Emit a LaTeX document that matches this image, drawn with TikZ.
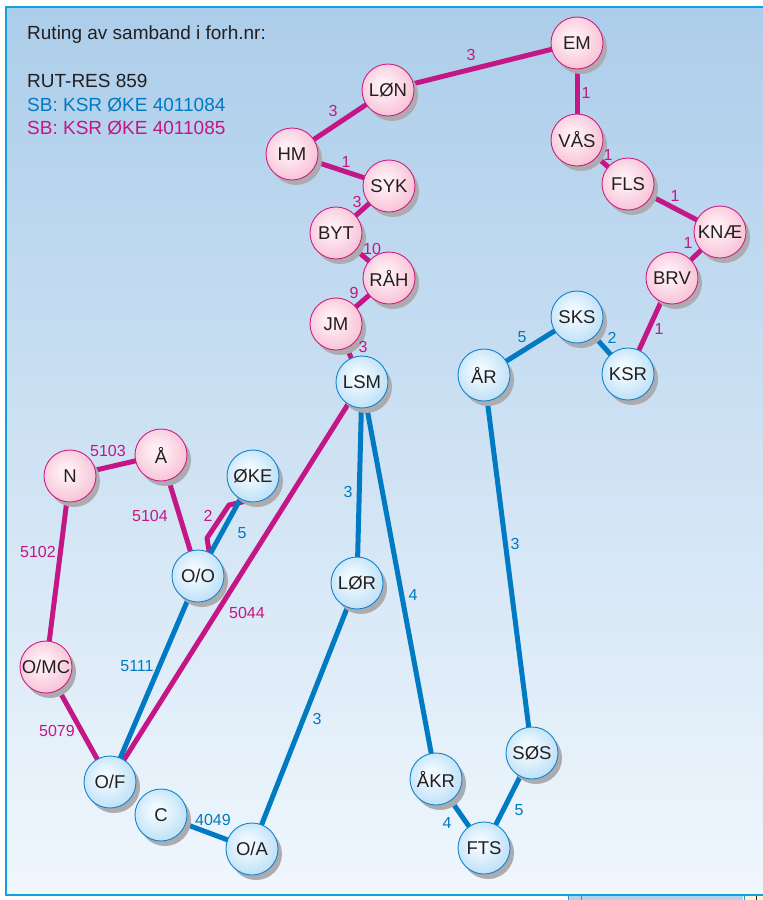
\documentclass[tikz,border=0pt]{standalone}
\usepackage{fontspec}
\setmainfont{Liberation Sans}
\usetikzlibrary{shadows}

\definecolor{panelTop}{RGB}{172,205,234}
\definecolor{panelBot}{RGB}{240,247,253}
\definecolor{frameC}{RGB}{20,160,222}
\definecolor{mag}{RGB}{196,22,134}
\definecolor{blu}{RGB}{0,122,194}
\definecolor{txt}{RGB}{35,31,32}
\definecolor{pinkin}{RGB}{254,238,244}
\definecolor{pinkout}{RGB}{243,158,190}
\definecolor{pinkedge}{RGB}{205,30,130}
\definecolor{bluein}{RGB}{240,249,255}
\definecolor{blueout}{RGB}{148,204,240}
\definecolor{blueedge}{RGB}{18,132,202}
\definecolor{shadowC}{RGB}{172,172,176}
\definecolor{stripBlue}{RGB}{178,210,236}
\definecolor{stripYel}{RGB}{252,246,214}

\pgfdeclareradialshading{pinkball}{\pgfpoint{-5bp}{5bp}}{color(0bp)=(pinkin); color(6bp)=(pinkin); color(46bp)=(pinkout); color(50bp)=(pinkout)}
\pgfdeclareradialshading{blueball}{\pgfpoint{-5bp}{5bp}}{color(0bp)=(bluein); color(6bp)=(bluein); color(46bp)=(blueout); color(50bp)=(blueout)}

\pgfdeclarelayer{panel}
\pgfdeclarelayer{links}
\pgfsetlayers{panel,links,main}

\tikzset{
  stn/.style={circle, minimum size=52pt, inner sep=0pt, line width=0.9pt,
    font=\fontsize{18.5}{20}\selectfont, text=txt,
    drop shadow={shadow xshift=4pt, shadow yshift=-5pt, fill=shadowC, opacity=1}},
  pk/.style={stn, draw=pinkedge, shading=pinkball},
  bl/.style={stn, draw=blueedge, shading=blueball},
  mline/.style={line width=5pt, draw=mag, line join=round},
  bline/.style={line width=5pt, draw=blu},
  mlab/.style={text=mag, font=\fontsize{16}{18}\selectfont, inner sep=0pt},
  blab/.style={text=blu, font=\fontsize{16}{18}\selectfont, inner sep=0pt},
  head/.style={anchor=base west, inner sep=0pt, font=\fontsize{19}{22}\selectfont},
}

\begin{document}
\begin{tikzpicture}[x=1pt, y=-1pt]
\useasboundingbox (0,0) rectangle (763,900);
\clip (0,0) rectangle (763,900);

% panel with gradient and frame
\begin{pgfonlayer}{panel}
  \fill[white] (0,0) rectangle (763,900);
  \shade[top color=panelTop, bottom color=panelBot] (6,7) rectangle (780,895);
  \draw[frameC, line width=1.4pt] (780,7) -- (6,7) -- (6,895) -- (780,895);
  % edge of the next panel below
  \fill[stripBlue] (569,896) rectangle (743,900);
  \fill[stripYel] (745,896) rectangle (763,900);
  \draw[frameC, line width=0.8pt] (568,896) -- (568,900) (581,896) -- (581,900) (744,896) -- (744,900);
  \draw[txt, line width=0.8pt] (756,896) -- (756,900);
\end{pgfonlayer}

% legend
\node[head, text=txt] (hdr) at (27,39) {Ruting av samband i forh.nr:};
\node[head, text=txt] (rut) at (27,87) {RUT-RES 859};
\node[head, text=blu] (sbb) at (27,111) {SB: KSR ØKE 4011084};
\node[head, text=mag] (sbm) at (27,134) {SB: KSR ØKE 4011085};

% stations
\node[pk] (em)  at (577,43)  {EM};
\node[pk] (lon) at (388,90)  {LØN};
\node[pk] (hm)  at (292,154) {HM};
\node[pk] (syk) at (389,186) {SYK};
\node[pk] (byt) at (336,233) {BYT};
\node[pk] (rah) at (389,278) {RÅH};
\node[pk] (jm)  at (336,324) {JM};
\node[bl] (lsm) at (362,382) {LSM};
\node[pk] (vas) at (577,140) {VÅS};
\node[pk] (fls) at (628,184) {FLS};
\node[pk] (kna) at (720,232) {KNÆ};
\node[pk] (brv) at (672,278) {BRV};
\node[bl] (sks) at (577,317) {SKS};
\node[bl] (ksr) at (628,374) {KSR};
\node[bl] (ar)  at (484,375) {ÅR};
\node[pk] (n)   at (70,476)  {N};
\node[pk] (aa)  at (161,455) {Å};
\node[bl] (oke) at (253,476) {ØKE};
\node[bl] (oo)  at (198,576) {O/O};
\node[bl] (lor) at (357,583) {LØR};
\node[pk] (omc) at (46,667)  {O/MC};
\node[bl] (of)  at (110,782) {O/F};
\node[bl] (c)   at (161,815) {C};
\node[bl] (oa)  at (252,849) {O/A};
\node[bl] (akr) at (436,779) {ÅKR};
\node[bl] (sos) at (532,753) {SØS};
\node[bl] (fts) at (484,848) {FTS};

% bend points of the ØKE loop
\coordinate (k1) at (207,538);
\coordinate (k2) at (229,505);

% connections
\begin{pgfonlayer}{links}
  \draw[mline] (em.center) -- (lon.center);
  \draw[mline] (em.center) -- (vas.center);
  \draw[mline] (lon.center) -- (hm.center);
  \draw[mline] (hm.center) -- (syk.center);
  \draw[mline] (syk.center) -- (byt.center);
  \draw[mline] (byt.center) -- (rah.center);
  \draw[mline] (rah.center) -- (jm.center);
  \draw[mline] (jm.center) -- (lsm.center);
  \draw[mline] (vas.center) -- (fls.center);
  \draw[mline] (fls.center) -- (kna.center);
  \draw[mline] (kna.center) -- (brv.center);
  \draw[mline] (brv.center) -- (ksr.center);
  \draw[mline] (n.center) -- (aa.center);
  \draw[mline] (n.center) -- (omc.center);
  \draw[mline] (aa.center) -- (oo.center);
  \draw[mline] (oo.65) -- (k1) -- (k2) -- (oke.253);
  \draw[mline] (lsm.center) -- (of.center);
  \draw[mline] (omc.center) -- (of.center);

  \draw[bline] (lsm.center) -- (lor.center);
  \draw[bline] (lsm.center) -- (akr.center);
  \draw[bline] (lor.center) -- (oa.center);
  \draw[bline] (ar.center) -- (sks.center);
  \draw[bline] (sks.center) -- (ksr.center);
  \draw[bline] (ar.center) -- (sos.center);
  \draw[bline] (oo.center) -- (oke.center);
  \draw[bline] (oo.center) -- (of.center);
  \draw[bline] (c.center) -- (oa.center);
  \draw[bline] (akr.center) -- (fts.center);
  \draw[bline] (sos.center) -- (fts.center);
\end{pgfonlayer}

% circuit numbers
\node[mlab] (l1)  at (471,55)  {3};
\node[mlab] (l2)  at (586,93)  {1};
\node[mlab] (l3)  at (333,111) {3};
\node[mlab] (l4)  at (346,162) {1};
\node[mlab] (l5)  at (357,202) {3};
\node[mlab] (l6)  at (608,155) {1};
\node[mlab] (l7)  at (675,196) {1};
\node[mlab] (l8)  at (688,243) {1};
\node[mlab] (l9)  at (659,329) {1};
\node[mlab] (l10) at (372,249) {10};
\node[mlab] (l11) at (354,293) {9};
\node[mlab] (l12) at (363,347) {3};
\node[mlab] (l13) at (108,451) {5103};
\node[mlab] (l14) at (150,516) {5104};
\node[mlab] (l15) at (38,552)  {5102};
\node[mlab] (l16) at (208,516) {2};
\node[mlab] (l17) at (247,613) {5044};
\node[mlab] (l18) at (57,731)  {5079};

\node[blab] (b1)  at (612,338) {2};
\node[blab] (b2)  at (522,337) {5};
\node[blab] (b3)  at (348,492) {3};
\node[blab] (b4)  at (413,595) {4};
\node[blab] (b5)  at (515,544) {3};
\node[blab] (b6)  at (242,533) {5};
\node[blab] (b7)  at (137,666) {5111};
\node[blab] (b8)  at (317,719) {3};
\node[blab] (b9)  at (213,820) {4049};
\node[blab] (b10) at (447,823) {4};
\node[blab] (b11) at (519,810) {5};
\end{tikzpicture}
\end{document}
